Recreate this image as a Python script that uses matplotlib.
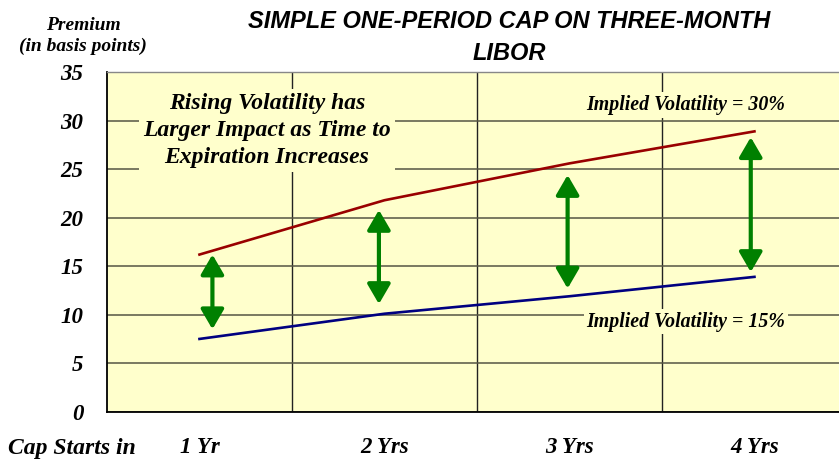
import matplotlib.pyplot as plt
from matplotlib.patches import ArrowStyle

# data
periods = ['1 Yr', '2 Yrs', '3 Yrs', '4 Yrs']
x_pos = [1, 2, 3, 4]
vol_30 = [16.2, 21.8, 25.6, 28.9]
vol_15 = [7.5, 10.1, 11.9, 13.9]

# green arrows: x position, top, bottom
arrow_x = [1.07, 1.97, 2.99, 3.98]
arrow_top = [16.2, 20.8, 24.4, 28.3]
arrow_bottom = [8.5, 11.1, 12.7, 14.4]

SERIF = 'Liberation Serif'
SANS = 'Liberation Sans'
BG = '#FFFFCC'


def main():
    fig = plt.figure(figsize=(8.39, 4.62), dpi=100)
    ax = fig.add_axes([0.1275, 0.1089, 0.8725, 0.7348])
    ax.set_facecolor(BG)

    ax.plot(x_pos, vol_30, color='#990000', lw=1.9, zorder=3)
    ax.plot(x_pos, vol_15, color='#000080', lw=1.9, zorder=3)

    style = ArrowStyle('<|-|>', head_length=0.6, head_width=0.35)
    for x, top, bot in zip(arrow_x, arrow_top, arrow_bottom):
        ax.annotate('', xy=(x, top), xytext=(x, bot),
                    arrowprops=dict(arrowstyle=style, color='#008000',
                                    lw=3, mutation_scale=20,
                                    shrinkA=0, shrinkB=0),
                    zorder=4)

    ax.set_xlim(0.5, 4.457)
    ax.set_ylim(0, 35)
    ax.set_yticks(range(0, 36, 5))
    ax.set_xticks(x_pos, labels=periods)
    ax.set_xticks([1.5, 2.5, 3.5], minor=True)
    ax.grid(axis='y', which='major', color='#555544', lw=1.1)
    ax.grid(axis='x', which='minor', color='#222222', lw=1)
    ax.set_axisbelow(True)
    ax.tick_params(which='both', length=0)
    ax.tick_params(axis='y', pad=17)
    ax.tick_params(axis='x', pad=18)
    for lab in ax.get_xticklabels() + ax.get_yticklabels():
        lab.set_fontfamily(SERIF)
        lab.set_fontweight('bold')
        lab.set_fontstyle('italic')
        lab.set_fontsize(16.5)

    ax.spines['right'].set_visible(False)
    ax.spines['top'].set_color('#888888')
    ax.spines['top'].set_linewidth(1)
    ax.spines['left'].set_linewidth(1.3)
    ax.spines['bottom'].set_linewidth(1.3)

    txt = dict(family=SERIF, weight='bold', style='italic')
    ax.text(1.365, 29.0, 'Rising Volatility has\nLarger Impact as Time to\nExpiration Increases',
            ha='center', va='center', fontsize=17, linespacing=1.38,
            bbox=dict(facecolor=BG, edgecolor='none', pad=3), zorder=5, **txt)
    ax.text(3.63, 31.6, 'Implied Volatility = 30%', ha='center', va='center',
            fontsize=14.3, bbox=dict(facecolor=BG, edgecolor='none', pad=2),
            zorder=5, **txt)
    ax.text(3.63, 9.28, 'Implied Volatility = 15%', ha='center', va='center',
            fontsize=14.3, bbox=dict(facecolor=BG, edgecolor='none', pad=2),
            zorder=5, **txt)

    fig.text(0.607, 0.918, 'SIMPLE ONE-PERIOD CAP ON THREE-MONTH\nLIBOR',
             ha='center', va='center', fontsize=17, family=SANS,
             weight='bold', style='italic', linespacing=1.5)
    fig.text(0.099, 0.922, 'Premium\n(in basis points)', ha='center', va='center',
             fontsize=14, linespacing=1.25, **txt)
    fig.text(0.009, 0.03, 'Cap Starts in', ha='left', va='center',
             fontsize=17, **txt)

    plt.savefig('out.png', dpi=100)
    return


if __name__ == '__main__':
    main()
